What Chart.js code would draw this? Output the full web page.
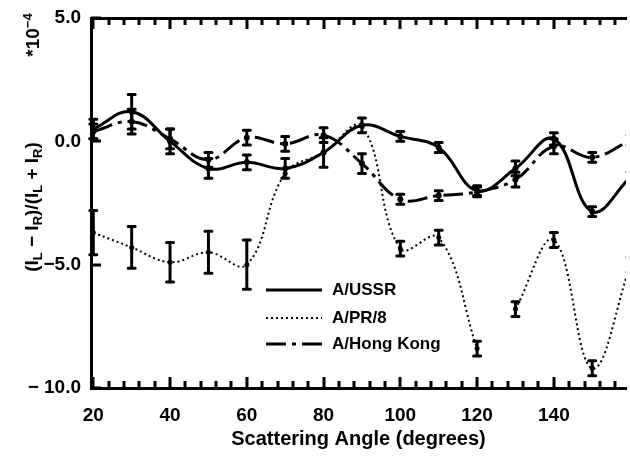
<!DOCTYPE html>
<html>
<head>
<meta charset="utf-8">
<script src="https://cdn.jsdelivr.net/npm/chart.js@4.4.1/dist/chart.umd.min.js"></script>
<style>
  html, body { margin: 0; padding: 0; background: #fff; }
  #wrap { width: 630px; height: 457px; }
</style>
</head>
<body>
<div id="wrap"><canvas id="polChart" width="630" height="457"></canvas></div>
<script>
// values in units of 1e-4
const angles = [20, 30, 40, 50, 60, 70, 80, 90, 100, 110, 120, 130, 140, 150, 160];
const ussr = [0.5, 1.2, 0.0, -1.1, -0.85, -1.1, -0.45, 0.65, 0.2, -0.25, -2.0, -1.1, 0.1, -2.85, -1.45];
const ussrErr = [0.4, 0.7, 0.5, 0.4, 0.3, 0.4, 0.6, 0.3, 0.2, 0.2, 0.2, 0.3, 0.25, 0.2, 0.2];
const hongKong = [0.4, 0.8, 0.1, -0.75, 0.15, -0.1, 0.25, -0.9, -2.35, -2.2, -2.05, -1.55, -0.2, -0.65, 0.05];
const hongKongErr = [0.3, 0.5, 0.4, 0.3, 0.3, 0.3, 0.3, 0.4, 0.2, 0.2, 0.2, 0.3, 0.3, 0.2, 0.2];
const pr8Angles = [20, 30, 40, 50, 60, 70, 80, 90, 100, 110, 120, 125, 130, 140, 150, 160];
const pr8 = [-3.7, -4.3, -4.9, -4.5, -5.0, -1.3, -0.45, 0.6, -4.35, -3.9, -8.4, null, -6.8, -4.0, -9.2, -5.0];
const pr8Err = [0.9, 0.85, 0.8, 0.85, 1.0, 0, 0, 0, 0.3, 0.3, 0.3, null, 0.3, 0.3, 0.3, 0.3];

const xTicks = [20, 40, 60, 80, 100, 120, 140];
const yTicks = [5, 0, -5, -10];
const yTickLabels = ['5.0', '0.0', '\u22125.0', '\u2212 10.0'];

const FONT = '"Liberation Sans", Arial, sans-serif';

function pts(xs, ys) {
    return xs.map(function (a, i) { return { x: a, y: ys[i] }; });
}

// vertical error bars with caps
const errorBars = {
    id: 'errorBars',
    afterDatasetsDraw(chart) {
        const ctx = chart.ctx, a = chart.chartArea;
        const xs = chart.scales.x, ys = chart.scales.y;
        ctx.save();
        ctx.beginPath();
        ctx.rect(a.left - 10, a.top, a.right - a.left + 10, a.bottom - a.top);
        ctx.clip();
        ctx.setLineDash([]);
        ctx.strokeStyle = '#000';
        ctx.lineCap = 'round';
        chart.data.datasets.forEach(function (ds) {
            ds.data.forEach(function (p, i) {
                const e = ds.errors[i];
                if (p.y == null || !e) return;
                const px = xs.getPixelForValue(p.x);
                const top = ys.getPixelForValue(p.y + e);
                const bot = ys.getPixelForValue(p.y - e);
                ctx.lineWidth = 3;
                ctx.beginPath();
                ctx.moveTo(px, top); ctx.lineTo(px, bot);
                ctx.moveTo(px - 3.5, top); ctx.lineTo(px + 3.5, top);
                ctx.moveTo(px - 3.5, bot); ctx.lineTo(px + 3.5, bot);
                ctx.stroke();
            });
        });
        ctx.restore();
    }
};

// inward ticks on the frame
const innerTicks = {
    id: 'innerTicks',
    afterDraw(chart) {
        const ctx = chart.ctx, a = chart.chartArea;
        const xs = chart.scales.x, ys = chart.scales.y;
        ctx.save();
        ctx.fillStyle = '#000';
        for (let v = 20; v <= 158; v += 4) {
            const px = Math.round(xs.getPixelForValue(v));
            const len = v % 20 === 0 ? 11 : 7;
            ctx.fillRect(px - 1.5, a.bottom - len, 3, len);
            ctx.fillRect(px - 1.5, a.top, 3, len);
        }
        yTicks.forEach(function (v) {
            const py = Math.round(ys.getPixelForValue(v));
            ctx.fillRect(a.left, py - 1.5, 10, 3);
        });
        ctx.restore();
    }
};

// rotated text with sub/superscripts
function drawRuns(ctx, runs, cx, cy) {
    ctx.save();
    ctx.translate(cx, cy);
    ctx.rotate(-Math.PI / 2);
    ctx.fillStyle = '#000';
    ctx.textBaseline = 'middle';
    let total = 0;
    runs.forEach(function (r) {
        ctx.font = r.font;
        r.w = ctx.measureText(r.t).width;
        total += r.w;
    });
    let x = -total / 2;
    runs.forEach(function (r) {
        ctx.font = r.font;
        ctx.fillText(r.t, x, r.dy || 0);
        x += r.w;
    });
    ctx.restore();
}

const axisText = {
    id: 'axisText',
    afterDraw(chart) {
        const ctx = chart.ctx;
        const big = 'bold 19px ' + FONT, small = 'bold 13px ' + FONT;
        drawRuns(ctx, [
            { t: '(I', font: big }, { t: 'L', font: small, dy: 5 },
            { t: ' \u2212 I', font: big }, { t: 'R', font: small, dy: 5 },
            { t: ')/(I', font: big }, { t: 'L', font: small, dy: 5 },
            { t: ' + I', font: big }, { t: 'R', font: small, dy: 5 },
            { t: ')', font: big }
        ], 33, 207);
        drawRuns(ctx, [
            { t: '*10', font: big }, { t: '\u22124', font: small, dy: -6 }
        ], 34, 35);
    }
};

const legendBox = {
    id: 'legendBox',
    afterDraw(chart) {
        const ctx = chart.ctx;
        const rows = [290, 318, 344];
        ctx.save();
        chart.data.datasets.forEach(function (ds, i) {
            const y = rows[i];
            ctx.strokeStyle = '#000';
            ctx.lineWidth = ds.borderWidth;
            ctx.setLineDash(ds.borderDash || []);
            ctx.beginPath();
            ctx.moveTo(266, y); ctx.lineTo(322, y);
            ctx.stroke();
            ctx.setLineDash([]);
            ctx.fillStyle = '#000';
            ctx.font = 'bold 17px ' + FONT;
            ctx.textBaseline = 'middle';
            ctx.fillText(ds.label, 332, y);
        });
        ctx.restore();
    }
};

function fixWidth(w) {
    return function (s) { s.width = w; s.paddingTop = 0; s.paddingBottom = 0; };
}
function fixHeight(h) {
    return function (s) { s.height = h; s.paddingLeft = 0; s.paddingRight = 0; };
}

new Chart(document.getElementById('polChart'), {
    type: 'line',
    data: {
        datasets: [
            {
                label: 'A/USSR',
                data: pts(angles, ussr),
                errors: ussrErr,
                borderColor: '#000',
                borderWidth: 3,
                tension: 0.4,
                pointRadius: 3,
                pointBackgroundColor: '#000',
                pointBorderWidth: 0,
            },
            {
                label: 'A/PR/8',
                data: pts(pr8Angles, pr8),
                errors: pr8Err,
                borderColor: '#000',
                borderWidth: 2,
                borderDash: [2, 3],
                tension: 0.4,
                spanGaps: false,
                pointRadius: 2.5,
                pointBackgroundColor: '#000',
                pointBorderWidth: 0,
            },
            {
                label: 'A/Hong Kong',
                data: pts(angles, hongKong),
                errors: hongKongErr,
                borderColor: '#000',
                borderWidth: 3,
                borderDash: [20, 6, 4, 6],
                tension: 0.4,
                pointRadius: 3,
                pointBackgroundColor: '#000',
                pointBorderWidth: 0,
            }
        ]
    },
    options: {
        responsive: false,
        animation: false,
        layout: { padding: 0 },
        plugins: {
            legend: { display: false },
            tooltip: { enabled: false }
        },
        scales: {
            x: {
                type: 'linear',
                position: 'bottom',
                min: 19.4,
                max: 158.8,
                afterFit: fixHeight(69),
                afterBuildTicks: function (s) { s.ticks = xTicks.map(function (v) { return { value: v }; }); },
                ticks: {
                    autoSkip: false,
                    maxRotation: 0,
                    padding: 16,
                    color: '#000',
                    font: { family: FONT, size: 19, weight: 'bold' }
                },
                grid: { drawOnChartArea: false, drawTicks: false },
                border: { width: 3, color: '#000' },
                title: {
                    display: true,
                    text: 'Scattering Angle (degrees)',
                    color: '#000',
                    font: { family: FONT, size: 20, weight: 'bold' },
                    padding: { top: 0, bottom: 6 }
                }
            },
            x2: {
                type: 'linear',
                position: 'top',
                min: 19.4,
                max: 158.8,
                afterFit: fixHeight(18),
                ticks: { display: false },
                grid: { drawOnChartArea: false, drawTicks: false },
                border: { width: 3, color: '#000' }
            },
            y: {
                type: 'linear',
                min: -10,
                max: 5,
                afterFit: fixWidth(91),
                afterBuildTicks: function (s) { s.ticks = yTicks.map(function (v) { return { value: v }; }); },
                ticks: {
                    autoSkip: false,
                    padding: 10,
                    color: '#000',
                    font: { family: FONT, size: 19, weight: 'bold' },
                    callback: function (v) { return yTickLabels[yTicks.indexOf(v)]; }
                },
                grid: { drawOnChartArea: false, drawTicks: false },
                border: { width: 3, color: '#000' }
            }
        }
    },
    plugins: [errorBars, innerTicks, axisText, legendBox]
});
</script>
</body>
</html>
